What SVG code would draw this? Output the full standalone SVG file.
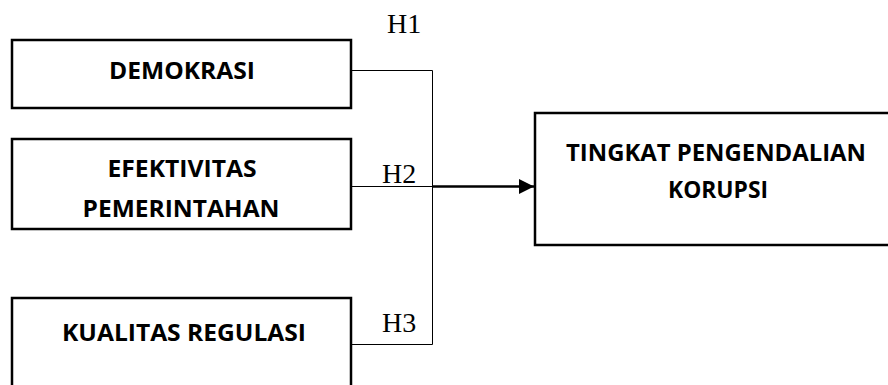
<svg xmlns="http://www.w3.org/2000/svg" width="888" height="385" viewBox="0 0 888 385">
<style>
.box{fill:#fff;stroke:#000;stroke-width:2.5}
.lbl{font-family:"Open Sans","Liberation Sans",sans-serif;font-weight:bold;font-size:24px;fill:#000;text-anchor:middle}
.h{font-family:"Liberation Serif","Times New Roman",serif;font-size:28px;fill:#000}
.ln{fill:none;stroke:#000;stroke-width:1}
.ar{fill:none;stroke:#000;stroke-width:2.5}
</style>
<defs>
<marker id="ah" markerUnits="userSpaceOnUse" markerWidth="16" markerHeight="16" refX="15" refY="8" orient="auto">
<path d="M0,0.5 L15,8 L0,15.5 Z" fill="#000"/>
</marker>
</defs>
<rect width="888" height="385" fill="#fff"/>
<g id="connectors">
<path class="ln" d="M351,70.5 H432.5 V344.5 H351"/>
<path class="ln" d="M351,186.5 H432.5"/>
<path class="ar" d="M432,186.5 H534" marker-end="url(#ah)"/>
</g>
<g id="labels">
<text class="h" x="387" y="33">H1</text>
<text class="h" x="382" y="183">H2</text>
<text class="h" x="382" y="332">H3</text>
</g>
<g id="demokrasi">
<rect class="box" x="12" y="40" width="339" height="68"/>
<text class="lbl" x="182" y="79" textLength="146" lengthAdjust="spacingAndGlyphs">DEMOKRASI</text>
</g>
<g id="efektivitas">
<rect class="box" x="12" y="139" width="339" height="90"/>
<text class="lbl" x="182" y="177" textLength="149" lengthAdjust="spacingAndGlyphs">EFEKTIVITAS</text>
<text class="lbl" x="181" y="217" textLength="197" lengthAdjust="spacingAndGlyphs">PEMERINTAHAN</text>
</g>
<g id="kualitas">
<rect class="box" x="12" y="298" width="339" height="100"/>
<text class="lbl" x="184" y="341" textLength="244" lengthAdjust="spacingAndGlyphs">KUALITAS REGULASI</text>
</g>
<g id="tingkat">
<rect class="box" x="535" y="113" width="360" height="132"/>
<text class="lbl" x="716" y="161" textLength="300" lengthAdjust="spacingAndGlyphs">TINGKAT PENGENDALIAN</text>
<text class="lbl" x="718" y="198" textLength="100" lengthAdjust="spacingAndGlyphs">KORUPSI</text>
</g>
</svg>
